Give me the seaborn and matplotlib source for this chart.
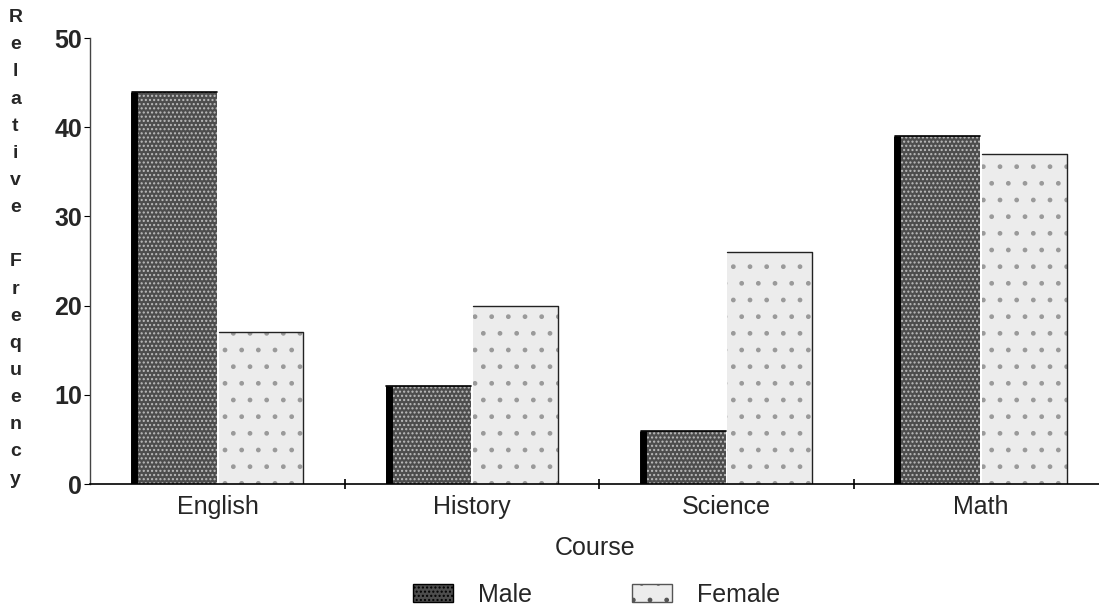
import pandas as pd
import seaborn as sns
import matplotlib.pyplot as plt
from matplotlib.patches import Patch

# Data
courses = ['English', 'History', 'Science', 'Math']
male = [44, 11, 6, 39]
female = [17, 20, 26, 37]
groups = ['Male', 'Female']

df = pd.DataFrame({
    'Course': courses * 2,
    'Sex': ['Male'] * len(courses) + ['Female'] * len(courses),
    'freq': male + female,
})

sns.set_style('white')
plt.rcParams['font.family'] = ['Liberation Sans', 'DejaVu Sans']

fig = plt.figure(figsize=(10.99, 6.09), dpi=100)
ax = fig.add_axes([0.0823, 0.205, 0.918, 0.7326])

pal = {'Male': '#4d4d4d', 'Female': '#ececec'}
sns.barplot(data=df, x='Course', y='freq', hue='Sex', order=courses,
            hue_order=groups, palette=pal, width=0.68, gap=0.02,
            saturation=1, legend=False, ax=ax)

# stippled look
for i, bar in enumerate(ax.patches):
    x, w, h = bar.get_x(), bar.get_width(), bar.get_height()
    bar.set_linewidth(0)
    if i < len(courses):
        bar.set_hatch('....')
        bar.set_edgecolor('#bdbdbd')
        ax.plot([x + 0.008, x + 0.008], [0, h], color='black', lw=5, solid_capstyle='butt')
        ax.plot([x, x + w], [h, h], color='black', lw=1.2)
    else:
        bar.set_hatch('.')
        bar.set_edgecolor('#9a9a9a')
        ax.plot([x, x + w, x + w], [h, h, 0], color='#222222', lw=1)

ax.set_xlim(-0.5, 3.465)
ax.set_ylim(0, 50)
ax.set_yticks([0, 10, 20, 30, 40, 50])
ax.set_xticks(range(len(courses)))
ax.set_xticklabels(courses, fontsize=18)
ax.set_xticks([0.5, 1.5, 2.5], minor=True)
ax.tick_params(axis='x', which='major', length=0, pad=8, bottom=False)
ax.tick_params(axis='x', which='minor', direction='inout', length=7, width=1.2,
               color='black', bottom=True)
ax.tick_params(axis='y', which='major', direction='out', length=4, width=0.8,
               color='black', labelsize=18, pad=2, left=True)
for t in ax.get_yticklabels():
    t.set_fontweight('bold')

ax.set_xlabel('Course', fontsize=18, labelpad=12)
ax.set_ylabel('')

for s in ['top', 'right']:
    ax.spines[s].set_visible(False)
ax.spines['left'].set_linestyle((0, (2, 1)))
ax.spines['left'].set_color('#444444')
ax.spines['left'].set_linewidth(1)
ax.spines['bottom'].set_color('black')
ax.spines['bottom'].set_linewidth(1.2)

ylabel = 'Relative Frequency'
fig.text(0.014, 0.985, '\n'.join(ylabel), fontsize=14, fontweight='bold',
         va='top', ha='center', linespacing=1.78)

handles = [Patch(facecolor='#4d4d4d', edgecolor='black', hatch='....'),
           Patch(facecolor='#ececec', edgecolor='#555555', hatch='.')]
fig.legend(handles, groups, loc='lower center', bbox_to_anchor=(0.543, -0.033),
           ncol=2, frameon=False, fontsize=18, columnspacing=4.0,
           handlelength=1.6, handleheight=0.7, handletextpad=1.0)

fig.savefig('out.png', dpi=100)
